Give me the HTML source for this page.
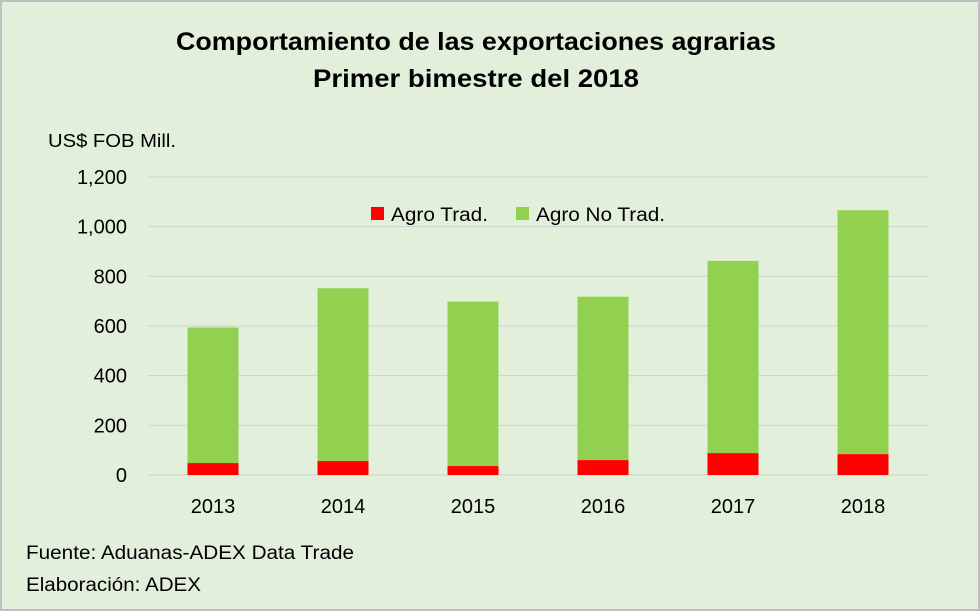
<!DOCTYPE html>
<html><head><meta charset="utf-8">
<style>
body{margin:0;background:#fff;}
#chart{position:relative;width:980px;height:611px;font-family:"Liberation Sans",Carlito,sans-serif;}
</style></head>
<body>
<div id="chart">
<svg id="svg" width="980" height="611" xmlns="http://www.w3.org/2000/svg">
<rect x="1" y="1" width="978" height="609" fill="#e2efda" stroke="#bfbfbf" stroke-width="2"/>
<text x="176" y="50" textLength="600" lengthAdjust="spacingAndGlyphs" font-size="25" font-weight="bold" fill="#000">Comportamiento de las exportaciones agrarias</text>
<text x="313" y="87" textLength="326" lengthAdjust="spacingAndGlyphs" font-size="25" font-weight="bold" fill="#000">Primer bimestre del 2018</text>
<text x="48" y="147" textLength="128" lengthAdjust="spacingAndGlyphs" font-size="18" fill="#000">US$ FOB Mill.</text>
<g id="grid"></g><g id="bars"></g><g id="labels"></g>
<g>
<rect x="371" y="207" width="13" height="13" fill="#ff0000"/>
<text x="391" y="221" textLength="97" lengthAdjust="spacingAndGlyphs" font-size="19" fill="#000">Agro Trad.</text>
<rect x="516" y="207" width="13" height="13" fill="#92d050"/>
<text x="536" y="221" textLength="129" lengthAdjust="spacingAndGlyphs" font-size="19" fill="#000">Agro No Trad.</text>
</g>
<text x="26" y="559" textLength="328" lengthAdjust="spacingAndGlyphs" font-size="19" fill="#000">Fuente: Aduanas-ADEX Data Trade</text>
<text x="26" y="591" textLength="175" lengthAdjust="spacingAndGlyphs" font-size="19" fill="#000">Elaboración: ADEX</text>
</svg>
</div>
<script>
const categories=["2013","2014","2015","2016","2017","2018"];
const tradValues=[48,56,36,60,88,84];
const totalValues=[594,752,698,718,862,1066];
const yTicks=[0,200,400,600,800,1000,1200];
const yTickLabels=["0","200","400","600","800","1,000","1,200"];
const NS="http://www.w3.org/2000/svg";
const y0=475,y1=177,yMax=1200,left=148,step=130,bw=51;
function y(v){return y0-(v/yMax)*(y0-y1);}
function xc(i){return left+step*i+step/2;}
function mk(tag,attrs,parent){const e=document.createElementNS(NS,tag);for(const k in attrs)e.setAttribute(k,attrs[k]);parent.appendChild(e);return e;}
const grid=document.getElementById('grid'),bars=document.getElementById('bars'),labels=document.getElementById('labels');
yTicks.forEach((t,i)=>{
 const l=mk('line',{x1:left,x2:left+step*6,y1:y(t),y2:y(t),stroke:'#d0d0d0','stroke-width':1},grid);
 
 
 const tx=mk('text',{x:127,y:y(t)+7,'text-anchor':'end','font-size':20,fill:'#000'},labels);
 tx.textContent=yTickLabels[i];
 
 
});
categories.forEach((c,i)=>{
 const g=mk('rect',{x:xc(i)-bw/2,y:y(totalValues[i]),width:bw,height:y(tradValues[i])-y(totalValues[i]),fill:'#92d050'},bars);
 
 
 const r=mk('rect',{x:xc(i)-bw/2,y:y(tradValues[i]),width:bw,height:y0-y(tradValues[i]),fill:'#ff0000'},bars);
 
 
 const tx=mk('text',{x:xc(i),y:513,'text-anchor':'middle','font-size':20,fill:'#000'},labels);
 tx.textContent=c;
 
 
});
</script>
</body></html>
